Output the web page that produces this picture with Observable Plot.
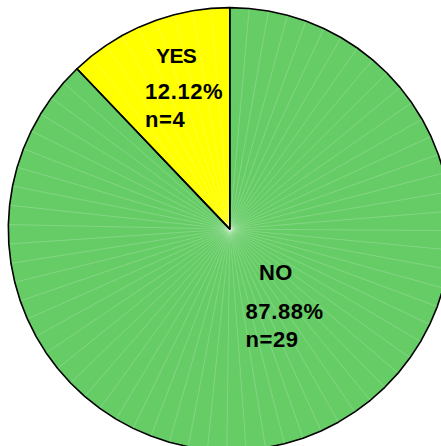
<!DOCTYPE html>
<html>
<head>
<meta charset="utf-8">
<script src="https://cdn.jsdelivr.net/npm/d3@7"></script>
<script src="https://cdn.jsdelivr.net/npm/@observablehq/plot@0.6"></script>
<style>
  html, body { margin: 0; padding: 0; background: #ffffff; }
  #chart { width: 441px; height: 446px; overflow: hidden; }
</style>
</head>
<body>
<div id="chart"></div>
<script>
// ---- data ----
const categories = ["YES", "NO"];
const counts = [4, 29];
const colors = ["#ffff00", "#66cc66"];

// ---- layout (pixels) ----
const W = 441, H = 446;
const cx = 229.3, cy = 228.6, R = 221.5;
const stepDeg = 5;            // facet size of the drawn circle
// text placement: [left, baseline] in pixels, per category, per line
const labelPos = {
  YES: [[155.5, 62.3], [144.5, 98], [144.5, 126.8]],
  NO:  [[258.5, 279.8], [245, 318.8], [245, 346]]
};

const total = d3.sum(counts);
const pie = d3.pie().sort(null).value(d => d)
  .startAngle(-2 * Math.PI * counts[0] / total)
  .endAngle(2 * Math.PI - 2 * Math.PI * counts[0] / total);
const arcs = pie(counts);

// polygon outlines and fan seams, derived from the pie angles
const polys = [];
const seams = [];
arcs.forEach((a, i) => {
  const span = a.endAngle - a.startAngle;
  const n = Math.max(1, Math.round(span / (stepDeg * Math.PI / 180)));
  polys.push({slice: i, x: 0, y: 0});
  for (let k = 0; k <= n; k++) {
    const t = a.startAngle + span * k / n;
    polys.push({slice: i, x: Math.sin(t), y: Math.cos(t)});
    if (k > 0 && k < n) seams.push({x: Math.sin(t), y: Math.cos(t)});
  }
});

const texts = [];
categories.forEach((c, i) => {
  const pct = (100 * counts[i] / total).toFixed(2) + "%";
  const lines = [c, pct, "n=" + counts[i]];
  lines.forEach((t, j) => texts.push({text: t, px: labelPos[c][j][0], py: labelPos[c][j][1], first: j === 0}));
});

const marks = [];
categories.forEach((c, i) => {
  marks.push(Plot.line(polys.filter(d => d.slice === i), {
    x: "x", y: "y", curve: "linear-closed",
    fill: colors[i], stroke: "none"
  }));
});
marks.push(Plot.link(seams, {
  x1: () => 0, y1: () => 0, x2: "x", y2: "y",
  stroke: "#ffffff", strokeOpacity: 0.32, strokeWidth: 0.6
}));
categories.forEach((c, i) => {
  marks.push(Plot.line(polys.filter(d => d.slice === i), {
    x: "x", y: "y", curve: "linear-closed",
    fill: "none", stroke: "#000000", strokeWidth: 1.6, strokeLinejoin: "round"
  }));
});
texts.forEach(t => {
  const isYes = t.text === "YES";
  marks.push(Plot.text([t], {
    frameAnchor: "top-left", dx: t.px, dy: t.py,
    text: "text", textAnchor: "start", lineAnchor: "bottom",
    fontSize: isYes ? 21 : 22, fontWeight: "bold", fill: "#000000",
    className: t.first ? "lbl-head" : "lbl-num"
  }));
});

const chart = Plot.plot({
  width: W, height: H,
  margin: 0,
  style: {fontFamily: "'Liberation Sans', Arial, sans-serif", background: "#ffffff", overflow: "hidden"},
  x: {axis: null, domain: [-cx / R, (W - cx) / R], range: [0, W]},
  y: {axis: null, domain: [-(H - cy) / R, cy / R], range: [H, 0]},
  marks
});
chart.querySelectorAll(".lbl-num text").forEach(t => t.setAttribute("letter-spacing", "0.6"));
chart.querySelectorAll(".lbl-head text").forEach(t => {
  t.setAttribute("letter-spacing", t.textContent === "NO" ? "0.3" : "-0.6");
});
document.getElementById("chart").appendChild(chart);
</script>
</body>
</html>
